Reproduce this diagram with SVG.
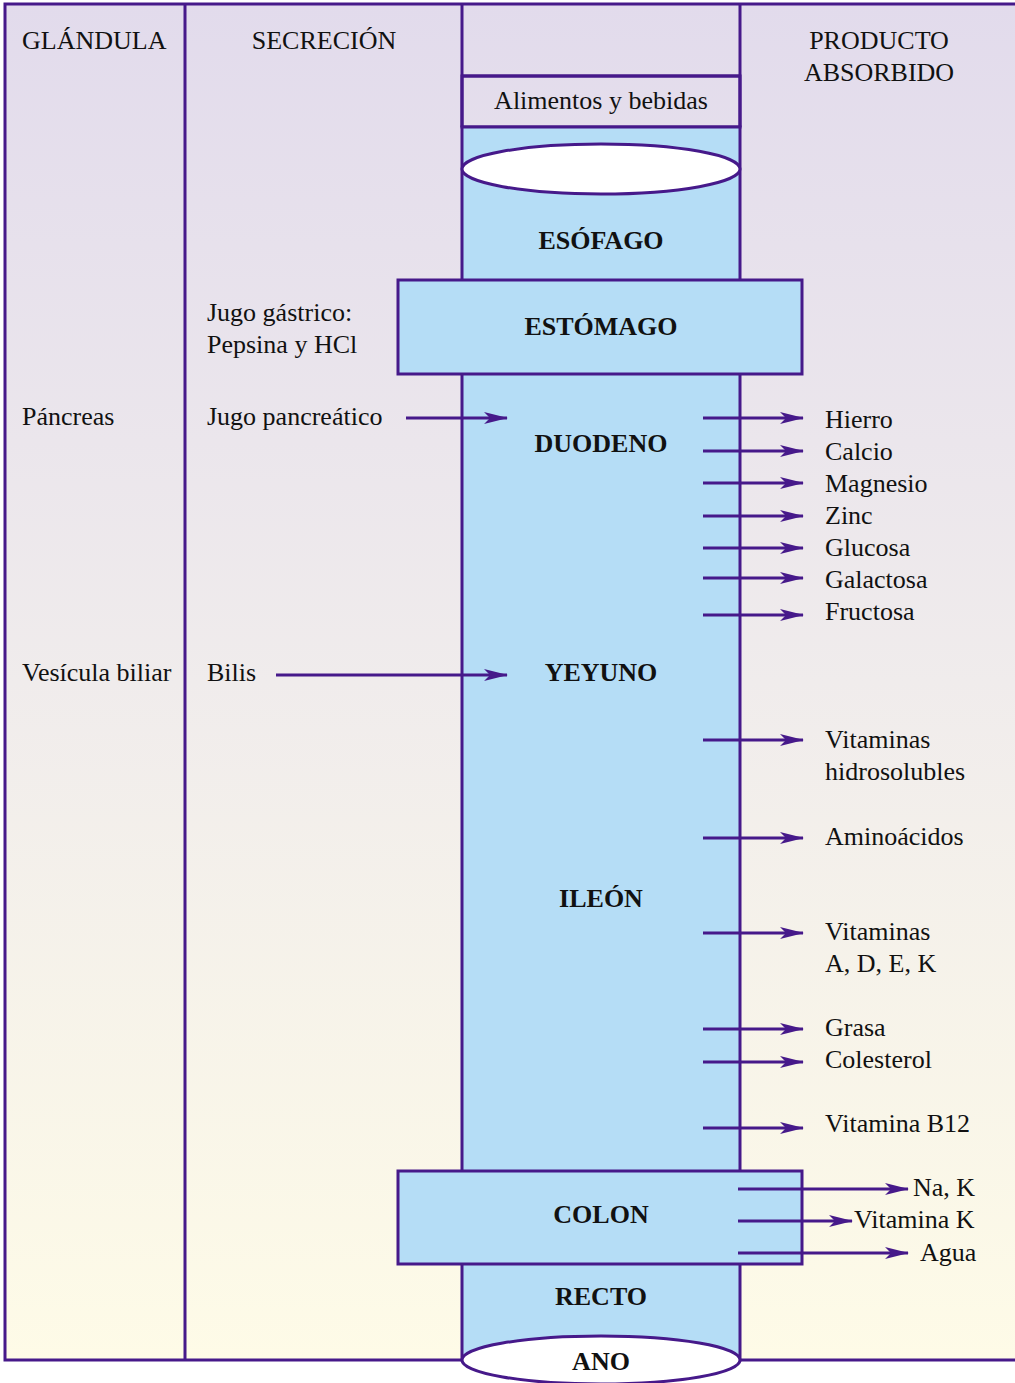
<svg xmlns="http://www.w3.org/2000/svg" width="1015" height="1383" viewBox="0 0 1015 1383">
<style>
.t{font-family:"Liberation Serif","Times New Roman",serif;font-size:26px;fill:#111}
.b{font-family:"Liberation Serif","Times New Roman",serif;font-size:26px;font-weight:bold;fill:#111;text-anchor:middle}
.c{text-anchor:middle}
.ln{stroke:#46198a;stroke-width:3;fill:none}
.organ{fill:#b5ddf6;stroke:#46198a;stroke-width:3}
.hole{fill:#fff;stroke:#46198a;stroke-width:3}
.arr{stroke:#46198a;stroke-width:3;fill:none;marker-end:url(#ah)}
</style>
<defs>
<linearGradient id="bg" x1="0" y1="0" x2="0" y2="1">
<stop offset="0" stop-color="#e2dbec"/>
<stop offset="0.5" stop-color="#f0ecec"/>
<stop offset="1" stop-color="#fefbe7"/>
</linearGradient>
<marker id="ah" viewBox="0 0 24 12" markerWidth="24" markerHeight="12" refX="23" refY="6" orient="auto" markerUnits="userSpaceOnUse">
<path d="M0,0 L24,6 L0,12 L6,6 z" fill="#46198a"/>
</marker>
</defs>
<g id="background">
<rect x="5" y="4" width="1020" height="1356" fill="url(#bg)" stroke="#46198a" stroke-width="3"/>
<line class="ln" x1="185" y1="4" x2="185" y2="1360"/>
<line class="ln" x1="462" y1="4" x2="462" y2="127"/>
<line class="ln" x1="740" y1="4" x2="740" y2="127"/>
<line class="ln" x1="462" y1="76" x2="740" y2="76"/>
</g>
<g id="headers">
<text class="t" x="22" y="49">GLÁNDULA</text>
<text class="t c" x="324" y="49">SECRECIÓN</text>
<text class="t c" x="879" y="49">PRODUCTO</text>
<text class="t c" x="879" y="81">ABSORBIDO</text>
</g>
<g id="alimentos">
<rect x="462" y="76" width="278" height="51" fill="none" stroke="#46198a" stroke-width="3"/>
<text class="t c" x="601" y="109">Alimentos y bebidas</text>
</g>
<g id="tubo">
<rect class="organ" x="462" y="127" width="278" height="1233"/>
<ellipse class="hole" cx="601" cy="169" rx="139" ry="25"/>
</g>
<g id="esofago"><text class="b" x="601" y="249">ESÓFAGO</text></g>
<g id="estomago">
<rect class="organ" x="398" y="280" width="404" height="94"/>
<text class="b" x="601" y="335">ESTÓMAGO</text>
</g>
<g id="duodeno"><text class="b" x="601" y="452">DUODENO</text></g>
<g id="yeyuno"><text class="b" x="601" y="681">YEYUNO</text></g>
<g id="ileon"><text class="b" x="601" y="907">ILEÓN</text></g>
<g id="colon">
<rect class="organ" x="398" y="1171" width="404" height="93"/>
<text class="b" x="601" y="1223">COLON</text>
</g>
<g id="recto"><text class="b" x="601" y="1305">RECTO</text></g>
<g id="ano">
<ellipse class="hole" cx="601" cy="1360" rx="139" ry="24"/>
<text class="b" x="601" y="1370">ANO</text>
</g>
<g id="secreciones">
<text class="t" x="207" y="321">Jugo gástrico:</text>
<text class="t" x="207" y="353">Pepsina y HCl</text>
<text class="t" x="22" y="425">Páncreas</text>
<text class="t" x="207" y="425">Jugo pancreático</text>
<text class="t" x="22" y="681">Vesícula biliar</text>
<text class="t" x="207" y="681">Bilis</text>
</g>
<g id="productos">
<text class="t" x="825" y="428">Hierro</text>
<text class="t" x="825" y="460">Calcio</text>
<text class="t" x="825" y="492">Magnesio</text>
<text class="t" x="825" y="524">Zinc</text>
<text class="t" x="825" y="556">Glucosa</text>
<text class="t" x="825" y="588">Galactosa</text>
<text class="t" x="825" y="620">Fructosa</text>
<text class="t" x="825" y="748">Vitaminas</text>
<text class="t" x="825" y="780">hidrosolubles</text>
<text class="t" x="825" y="845">Aminoácidos</text>
<text class="t" x="825" y="940">Vitaminas</text>
<text class="t" x="825" y="972">A, D, E, K</text>
<text class="t" x="825" y="1036">Grasa</text>
<text class="t" x="825" y="1068">Colesterol</text>
<text class="t" x="825" y="1132">Vitamina B12</text>
<text class="t" x="913" y="1196">Na, K</text>
<text class="t" x="854" y="1228">Vitamina K</text>
<text class="t" x="920" y="1261">Agua</text>
</g>
<g id="conectores">
<line class="arr" x1="406" y1="418" x2="507" y2="418"/>
<line class="arr" x1="276" y1="675" x2="507" y2="675"/>
<line class="arr" x1="703" y1="418" x2="803" y2="418"/>
<line class="arr" x1="703" y1="451" x2="803" y2="451"/>
<line class="arr" x1="703" y1="483" x2="803" y2="483"/>
<line class="arr" x1="703" y1="516" x2="803" y2="516"/>
<line class="arr" x1="703" y1="548" x2="803" y2="548"/>
<line class="arr" x1="703" y1="578" x2="803" y2="578"/>
<line class="arr" x1="703" y1="615" x2="803" y2="615"/>
<line class="arr" x1="703" y1="740" x2="803" y2="740"/>
<line class="arr" x1="703" y1="838" x2="803" y2="838"/>
<line class="arr" x1="703" y1="933" x2="803" y2="933"/>
<line class="arr" x1="703" y1="1029" x2="803" y2="1029"/>
<line class="arr" x1="703" y1="1062" x2="803" y2="1062"/>
<line class="arr" x1="703" y1="1128" x2="803" y2="1128"/>
<line class="arr" x1="738" y1="1189" x2="908" y2="1189"/>
<line class="arr" x1="738" y1="1221" x2="852" y2="1221"/>
<line class="arr" x1="738" y1="1253" x2="908" y2="1253"/>
</g>
</svg>
